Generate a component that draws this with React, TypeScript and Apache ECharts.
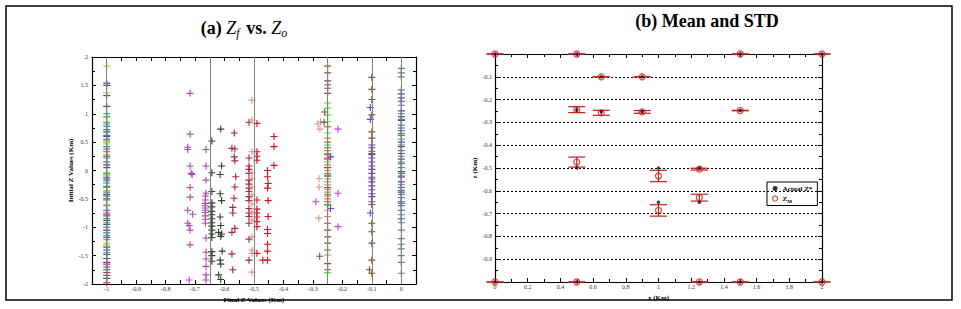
import React, { useEffect, useRef } from 'react';
import * as echarts from 'echarts';

// ---------- (a) Zf vs Zo : final (x) vs initial (y) ----------
const leftXTicks = [-1, -0.9, -0.8, -0.7, -0.6, -0.5, -0.4, -0.3, -0.2, -0.1, 0];
const leftYTicks = [2, 1.5, 1, 0.5, 0, -0.5, -1, -1.5, -2];
const guideLinesX = [-1, -0.65, -0.5, -0.25, -0.1, 0];

// column at x = -1
const m1Yellow = [1.84, 1.37, 0.93, 0.5, 0.47, 0.28, -0.03, -0.35, -0.6, -1.28, -1.31];
const m1Blue = [1.54, 1.32, 1.13, 0.78, 0.6, 0.55, 0.38, 0.15, 0.05, -0.12, -0.42, -0.5, -0.7, -0.85, -0.95, -1.05, -1.15, -1.35, -1.4, -1.48, -1.55, -1.7];
const m1Teal = [1.0, 0.85, 0.72, 0.62, 0.42, 0.22, -0.18, -0.22, -0.28, -0.38, -0.62, -0.8, -1.1, -1.22, -1.45];
const m1Green = [0.95, 0.82, 0.52, -0.05, -0.08, -0.3, -0.52, -0.92];
const m1Magenta = [0.33, -0.75, -0.78, -1.0, -1.62, -1.65, -1.8, -1.98];
const m1Dark = [1.5, 0.68, 0.25, 0.1, -0.15, -0.45, -0.88, -1.18, -1.75, -1.85, -1.9];

// column at x = 0
const z0Gray = [1.8, 1.72, 1.65, 1.42, 1.15, 1.0, 0.8, 0.62, 0.55, 0.35, 0.25, 0.05, -0.12, -0.25, -0.42, -0.78, -0.92, -1.05, -1.2, -1.3, -1.38, -1.5, -1.62, -1.81];
const z0Blue = [1.35, 1.22, 1.05, 0.88, 0.7, 0.5, 0.3, 0.12, -0.02, -0.2, -0.38, -0.55, -0.7, -0.85];
const z0Violet = [1.28, 0.95, 0.75, 0.42, 0.2, -0.1, -0.3, -0.48, -0.62];
const z0Green = [0.9, 0.65, 0.45, 0.15, -0.05, -0.35, -0.58];

// column at x = -0.1
const p1Brown = [1.64, 1.43, 1.25, 0.98, 0.68, 0.57, 0.3, -0.15, -0.6, -0.93, -1.08, -1.28, -1.58, -1.81];
const p1Violet = [0.45, 0.4, 0.34, 0.28, 0.22, 0.15, 0.08, 0.02, -0.05, -0.12, -0.2, -0.27, -0.34, -0.41, -0.46, -0.55];

// column at x = -0.25
const q25Brown = [1.84, 1.58, 1.45, 0.77, 0.4, 0.22, 0.05, -0.1, -0.3, -0.55, -0.93, -1.05, -1.17, -1.28, -1.4, -1.64, -1.75];
const q25Mauve = [1.72, 1.51, 1.36];
const q25Green = [1.19, 1.1, 0.98, 0.86, 0.66, 0.45, 0.3, 0.15, -0.05, -0.2, -0.38, -0.62, -1.8];
const q25Salmon = [0.57, 0.35, 0.1, 0.0, -0.15, -0.25, -0.42, -0.5, -0.7, -0.81, -1.49];
const q25Pink = [0.28, 0.2, -0.08, -0.33, -0.45];
const q25Olive = [0.5, -0.6];

// scattered points (x, y)
const purplePts = [
  [-0.717, 1.36], [-0.717, 0.64], [-0.725, 0.41], [-0.725, 0.37], [-0.717, 0.08], [-0.713, -0.05], [-0.71, -0.07],
  [-0.717, -0.3], [-0.717, -0.47], [-0.725, -0.7], [-0.708, -0.77], [-0.725, -0.93], [-0.72, -0.97], [-0.717, -1.05],
  [-0.717, -1.31], [-0.72, -1.93],
  [-0.663, 0.37], [-0.663, 0.08], [-0.663, -0.17], [-0.663, -0.4], [-0.665, -0.45], [-0.665, -0.52], [-0.665, -0.58],
  [-0.665, -0.62], [-0.665, -0.66], [-0.665, -0.7], [-0.665, -0.74], [-0.665, -0.8], [-0.665, -0.86], [-0.665, -0.93],
  [-0.663, -1.19], [-0.663, -1.44], [-0.663, -1.56], [-0.663, -1.69], [-0.663, -1.84], [-0.663, -1.93],
];
const magentaPts = [[-0.215, 0.73], [-0.215, -0.4], [-0.215, -0.99], [-0.29, -0.55]];
const darkGreenPts = [
  [-0.613, 0.73], [-0.643, 0.52], [-0.61, 0.08], [-0.615, -0.07], [-0.643, -0.04], [-0.643, -0.37], [-0.615, -0.41],
  [-0.61, -0.53], [-0.643, -0.57], [-0.643, -0.64], [-0.643, -0.72], [-0.643, -0.78], [-0.643, -0.85], [-0.643, -0.92],
  [-0.643, -0.98], [-0.643, -1.05], [-0.643, -1.12], [-0.643, -1.18], [-0.615, -0.82], [-0.613, -0.97], [-0.62, -1.09],
  [-0.61, -1.12], [-0.613, -1.16], [-0.608, -1.42], [-0.643, -1.43], [-0.615, -1.58], [-0.613, -1.65], [-0.643, -1.6],
  [-0.62, -1.84], [-0.613, -1.92], [-0.643, -1.5],
];
const maroonPts = [
  [-0.567, 0.66], [-0.575, 0.39], [-0.565, 0.38], [-0.567, 0.24], [-0.565, 0.17], [-0.562, -0.11], [-0.565, -0.29],
  [-0.568, -0.49], [-0.572, -0.65], [-0.572, -0.75], [-0.565, -1.02], [-0.575, -1.09], [-0.575, -1.47], [-0.572, -1.75],
  [-0.517, 0.85], [-0.517, 0.22], [-0.517, 0.08], [-0.517, 0.02], [-0.517, -0.05], [-0.517, -0.17], [-0.517, -0.24],
  [-0.517, -0.31], [-0.517, -0.37], [-0.517, -0.46], [-0.517, -0.53], [-0.517, -0.67], [-0.517, -0.75], [-0.517, -0.81],
  [-0.517, -0.93], [-0.517, -1.21], [-0.517, -1.58],
];
const salmonPts = [
  [-0.507, 1.24], [-0.507, 0.89], [-0.507, 0.33], [-0.507, -0.04], [-0.507, -0.14], [-0.507, -0.29], [-0.507, -0.43],
  [-0.507, -0.59], [-0.507, -0.73], [-0.507, -0.87], [-0.507, -1.17], [-0.507, -1.4], [-0.507, -1.46], [-0.507, -1.79],
  [-0.283, 0.82], [-0.274, 0.86], [-0.276, 0.73], [-0.279, -0.14], [-0.279, -0.29], [-0.28, -0.84],
];
const redPts = [
  [-0.49, 0.83], [-0.49, 0.33], [-0.49, 0.25], [-0.49, 0.18], [-0.49, -0.52], [-0.49, -0.68], [-0.49, -0.75],
  [-0.49, -0.82], [-0.49, -0.9], [-0.49, -0.99], [-0.49, -1.46],
  [-0.454, 0.0], [-0.454, -0.11], [-0.452, -0.23], [-0.454, -0.31], [-0.452, -0.53], [-0.452, -0.81], [-0.454, -1.04],
  [-0.454, -1.11], [-0.454, -1.3], [-0.454, -1.42], [-0.454, -1.58], [-0.47, -1.58],
  [-0.432, 0.6], [-0.432, 0.42], [-0.432, 0.09],
];
const extraBrownPts = [[-0.262, 0.85], [-0.26, 1.03], [-0.277, -1.51], [-0.108, -1.75]];
const extraVioletPts = [[-0.105, 1.11], [-0.105, 0.9], [-0.105, -0.75], [-0.24, 0.24], [-0.24, -0.67]];

// ---------- (b) Mean and STD ----------
const rightXTicks = [0, 0.2, 0.4, 0.6, 0.8, 1, 1.2, 1.4, 1.6, 1.8, 2];
const ptX = [0, 0.5, 1.5, 2, 0.65, 0.9, 0.5, 0.65, 0.9, 1.5, 0.5, 1.0, 1.25, 1.0, 1.25, 0, 0.5, 1.25, 1.5, 2];
const actualZ = [0, 0, 0, 0, -0.1, -0.1, -0.245, -0.253, -0.252, -0.248, -0.5, -0.5, -0.5, -0.65, -0.65, -1, -1, -1, -1, -1];
const meanZ = [0, 0, 0, 0, -0.1, -0.1, -0.244, -0.258, -0.254, -0.248, -0.474, -0.535, -0.505, -0.686, -0.63, -1, -1, -1, -1, -1];
const stdZ = [0, 0, 0, 0, 0, 0, 0.013, 0.011, 0.006, 0.001, 0.022, 0.025, 0.004, 0.025, 0.015, 0, 0, 0, 0, 0];

const SERIF = '"Liberation Serif", "DejaVu Serif", serif';
const CROSS = 'path://M4.2,0L5.8,0L5.8,4.2L10,4.2L10,5.8L5.8,5.8L5.8,10L4.2,10L4.2,5.8L0,5.8L0,4.2L4.2,4.2Z';

const col = (x: number, ys: number[]) => ys.map((y) => [x, y]);

function crossSeries(name: string, color: string, data: number[][], extra: any = {}) {
  return {
    name,
    type: 'scatter',
    xAxisIndex: 0,
    yAxisIndex: 0,
    symbol: CROSS,
    symbolSize: 7,
    itemStyle: { color, opacity: 1 },
    data,
    z: 3,
    silent: true,
    ...extra,
  };
}

function fmtLeftX(v: number) {
  const h = Math.round(v * 100);
  if (h % 10 !== 0) return '';
  if (h < -100 || h > 0) return '';
  const r = h / 100;
  return String(r === 0 ? 0 : r);
}

function buildOption() {
  const labelStyle = { fontFamily: SERIF, fontSize: 6, color: '#333' };
  const nameStyle = { fontFamily: SERIF, fontSize: 7, fontWeight: 'bold', color: '#000' };
  const axisLine = { show: true, onZero: false, lineStyle: { color: '#000', width: 1.2 } };
  const tick = { show: true, inside: true, length: 4, lineStyle: { color: '#000', width: 1 } };
  const minorTick = { show: true, splitNumber: 2, length: 3, lineStyle: { color: '#000', width: 1 } };

  const errData = ptX.map((x, i) => [x, meanZ[i] - stdZ[i], meanZ[i] + stdZ[i]]);

  return {
    animation: false,
    backgroundColor: '#fff',
    graphic: [
      { type: 'rect', shape: { x: 6, y: 6, width: 946, height: 294 }, style: { fill: 'none', stroke: '#000', lineWidth: 1.5 }, silent: true },
      {
        type: 'text', x: 245, y: 28,
        style: {
          text: '{b|(a) }{i|Z}{s|f}{b| vs. }{i|Z}{s|o}',
          textAlign: 'center', align: 'center', textVerticalAlign: 'middle', verticalAlign: 'middle',
          fill: '#000',
          rich: {
            b: { fontFamily: SERIF, fontSize: 18, fontWeight: 'bold', fill: '#000' },
            i: { fontFamily: SERIF, fontSize: 18, fontStyle: 'italic', fill: '#000' },
            s: { fontFamily: SERIF, fontSize: 12, fontStyle: 'italic', fill: '#000', padding: [9, 2, 0, 0] },
          },
        },
      },
      {
        type: 'text', x: 707, y: 21,
        style: {
          text: '(b) Mean and STD', textAlign: 'center', align: 'center', textVerticalAlign: 'middle', verticalAlign: 'middle',
          fontFamily: SERIF, fontSize: 18, fontWeight: 'bold', fill: '#000',
        },
      },
    ],
    grid: [
      { left: 92, top: 57, width: 324, height: 227 },
      { left: 495, top: 54, width: 327, height: 228 },
    ],
    xAxis: [
      {
        gridIndex: 0, type: 'value', position: 'bottom', min: -1.05, max: 0.05, interval: 0.05,
        name: 'Final Z Values (Km)', nameLocation: 'middle', nameGap: 8, nameTextStyle: nameStyle,
        axisLine, axisTick: tick, splitLine: { show: false },
        axisLabel: { ...labelStyle, margin: 2, formatter: fmtLeftX, showMinLabel: true, showMaxLabel: true },
      },
      {
        gridIndex: 0, type: 'value', position: 'top', min: -1.05, max: 0.05, interval: 0.05,
        axisLine, axisTick: tick, axisLabel: { show: false }, splitLine: { show: false },
      },
      {
        gridIndex: 1, type: 'value', position: 'bottom', min: 0, max: 2, interval: 0.2,
        name: 'x (Km)', nameLocation: 'middle', nameGap: 8, nameTextStyle: nameStyle,
        axisLine, axisTick: tick, minorTick, splitLine: { show: false },
        axisLabel: { ...labelStyle, margin: 2, formatter: (v: number) => String(Math.round(v * 10) / 10) },
      },
      {
        gridIndex: 1, type: 'value', position: 'top', min: 0, max: 2, interval: 0.2,
        axisLine, axisTick: tick, minorTick, axisLabel: { show: false }, splitLine: { show: false },
      },
    ],
    yAxis: [
      {
        gridIndex: 0, type: 'value', position: 'left', min: -2, max: 2, interval: 0.5,
        name: 'Initial Z Values (Km)', nameLocation: 'middle', nameGap: 17, nameTextStyle: nameStyle,
        axisLine, axisTick: tick, minorTick, splitLine: { show: false },
        axisLabel: { ...labelStyle, margin: 4, formatter: (v: number) => String(v) },
      },
      {
        gridIndex: 0, type: 'value', position: 'right', min: -2, max: 2, interval: 0.5,
        axisLine, axisTick: tick, minorTick, axisLabel: { show: false }, splitLine: { show: false },
      },
      {
        gridIndex: 1, type: 'value', position: 'left', min: -1, max: 0, interval: 0.1,
        name: 'z (Km)', nameLocation: 'middle', nameGap: 15, nameTextStyle: nameStyle,
        axisLine, axisTick: tick, minorTick,
        splitLine: { show: true, lineStyle: { color: '#000', type: [2, 2], width: 1 } },
        axisLabel: {
          ...labelStyle, margin: 3,
          formatter: (v: number) => {
            const r = Math.round(v * 10) / 10;
            return r === 0 || r === -1 ? '' : String(r);
          },
        },
      },
      {
        gridIndex: 1, type: 'value', position: 'right', min: -1, max: 0, interval: 0.1,
        axisLine, axisTick: tick, minorTick, axisLabel: { show: false }, splitLine: { show: false },
      },
    ],
    legend: {
      left: 767, top: 182, orient: 'vertical',
      borderColor: '#000', borderWidth: 1, padding: [3, 5, 2, 5],
      itemWidth: 5, itemHeight: 5, itemGap: 3,
      data: [
        { name: 'Actual Z*', icon: 'circle', itemStyle: { color: '#000', borderWidth: 0 } },
        { name: 'ZM', icon: 'circle', itemStyle: { color: '#fff', borderColor: '#d42020', borderWidth: 1.2 } },
      ],
      formatter: (n: string) => (n === 'ZM' ? '{n|Z}{s|M}' : '{n|' + n + '}'),
      textStyle: {
        rich: {
          n: { fontFamily: SERIF, fontSize: 7, fontWeight: 'bold', color: '#000' },
          s: { fontFamily: SERIF, fontSize: 5, fontWeight: 'bold', color: '#000', padding: [5, 0, 0, 0] },
        },
      },
    },
    series: [
      {
        type: 'scatter', xAxisIndex: 0, yAxisIndex: 0, data: [], silent: true, z: 2,
        markLine: {
          silent: true, symbol: ['none', 'none'], label: { show: false }, animation: false,
          lineStyle: { color: '#808080', width: 1, type: 'solid' },
          data: guideLinesX.map((x) => ({ xAxis: x })),
        },
      },
      crossSeries('m1Blue', '#2a5a9e', col(-1, m1Blue)),
      crossSeries('m1Teal', '#2f8c8c', col(-1, m1Teal)),
      crossSeries('m1Green', '#3cb444', col(-1, m1Green)),
      crossSeries('m1Yellow', '#c8c636', col(-1, m1Yellow)),
      crossSeries('m1Magenta', '#c8287a', col(-1, m1Magenta)),
      crossSeries('m1Dark', '#505050', col(-1, m1Dark)),
      crossSeries('z0Gray', '#5f8080', col(0, z0Gray)),
      crossSeries('z0Blue', '#3050a8', col(0, z0Blue)),
      crossSeries('z0Violet', '#6a3cb0', col(0, z0Violet)),
      crossSeries('z0Green', '#3a9a5a', col(0, z0Green)),
      crossSeries('p1Brown', '#7a5530', col(-0.1, p1Brown)),
      crossSeries('p1Violet', '#6a40b8', col(-0.1, p1Violet)),
      crossSeries('q25Brown', '#7a5a2c', col(-0.25, q25Brown)),
      crossSeries('q25Mauve', '#8a4a80', col(-0.25, q25Mauve)),
      crossSeries('q25Green', '#44e044', col(-0.25, q25Green)),
      crossSeries('q25Salmon', '#e07868', col(-0.25, q25Salmon)),
      crossSeries('q25Pink', '#d84868', col(-0.25, q25Pink)),
      crossSeries('q25Olive', '#8a7a20', col(-0.25, q25Olive)),
      crossSeries('purple', '#b048b0', purplePts),
      crossSeries('magenta', '#c040e0', magentaPts),
      crossSeries('darkGreen', '#2e4430', darkGreenPts),
      crossSeries('maroon', '#a3283e', maroonPts),
      crossSeries('salmon', '#d89a8a', salmonPts),
      crossSeries('red', '#d81020', redPts),
      crossSeries('extraBrown', '#7a5530', extraBrownPts),
      crossSeries('extraViolet', '#7040c0', extraVioletPts),
      {
        name: 'err', type: 'custom', xAxisIndex: 2, yAxisIndex: 2, silent: true, z: 3,
        data: errData, encode: { x: 0, y: [1, 2] },
        renderItem: (params: any, api: any) => {
          const x = api.value(0);
          const pLo = api.coord([x, api.value(1)]);
          const pHi = api.coord([x, api.value(2)]);
          const w = 8.5;
          const style = { stroke: '#c41e1e', lineWidth: 1.2, fill: 'none' };
          return {
            type: 'group',
            children: [
              { type: 'line', shape: { x1: pLo[0], y1: pLo[1], x2: pHi[0], y2: pHi[1] }, style },
              { type: 'line', shape: { x1: pLo[0] - w, y1: pLo[1], x2: pLo[0] + w, y2: pLo[1] }, style },
              { type: 'line', shape: { x1: pHi[0] - w, y1: pHi[1], x2: pHi[0] + w, y2: pHi[1] }, style },
            ],
          };
        },
      },
      {
        name: 'ZM', type: 'scatter', xAxisIndex: 2, yAxisIndex: 2, silent: true, z: 4,
        symbol: 'circle', symbolSize: 6,
        itemStyle: { color: 'rgba(255,255,255,0)', borderColor: '#d42020', borderWidth: 1.3 },
        data: ptX.map((x, i) => [x, meanZ[i]]),
      },
      {
        name: 'Actual Z*', type: 'scatter', xAxisIndex: 2, yAxisIndex: 2, silent: true, z: 5,
        symbol: 'circle', symbolSize: 3.5,
        itemStyle: { color: '#111' },
        data: ptX.map((x, i) => [x, actualZ[i]]),
      },
    ],
  };
}

export default function App() {
  const ref = useRef<HTMLDivElement>(null);
  useEffect(() => {
    if (!ref.current) return;
    const chart = echarts.init(ref.current, null, { renderer: 'svg' });
    chart.setOption(buildOption() as any);
    return () => chart.dispose();
  }, []);
  return (
    <div
      ref={ref}
      style={{ position: 'absolute', left: 0, top: 0, width: 961, height: 309, background: '#fff' }}
    />
  );
}
